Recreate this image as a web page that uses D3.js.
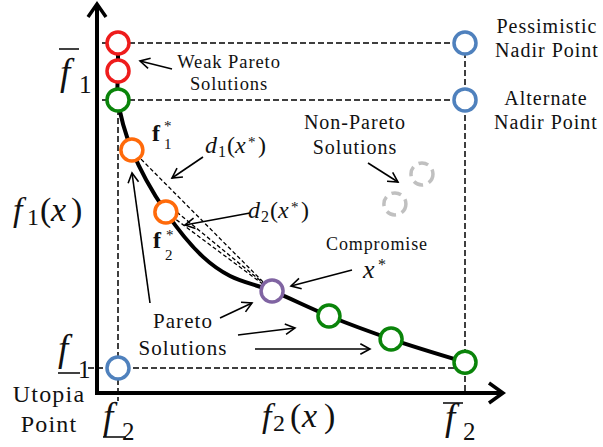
<!DOCTYPE html>
<html><head><meta charset="utf-8">
<script src="https://cdn.jsdelivr.net/npm/d3@7/dist/d3.min.js"></script>
<style>html,body{margin:0;padding:0;background:#fff;}svg{display:block;}</style>
</head><body>
<svg id="chart" width="603" height="447"></svg>
<script>
// ---- data (objective space, normalized: utopia = 0, pessimistic nadir = 10) ----
const weakPareto = [[0, 10], [0, 9.14]];
const paretoPoints = [[0, 8.25], [0.4, 6.71], [1.38, 4.8], [4.44, 2.37], [6.08, 1.6], [7.87, 0.89], [10, 0.18]];
const paretoKinds = ["pareto", "anchor", "anchor", "compromise", "pareto", "pareto", "pareto"];
const frontCurve = [[0, 10], [0, 9.14], [0, 8.25], [0.4, 6.71], [1.38, 4.8], [2.45, 3.42], [3.23, 2.83], [4.44, 2.37], [6.08, 1.6], [7.87, 0.89], [10, 0.18]];
const nadirPoints = [[10, 10], [10, 8.25]];
const utopiaPoint = [0, 0];
const nonParetoPoints = [[8.76, 5.97], [7.98, 5.05]];
const kindColors = {weak: "#ee1c1c", pareto: "#0a840a", anchor: "#ff6a0a", compromise: "#8064a2", ref: "#4f81bd"};

const svg = d3.select("#chart");
const SERIF = "'Liberation Serif', 'Times New Roman', serif";
const x = d3.scaleLinear().domain([0, 10]).range([118, 465]);
const y = d3.scaleLinear().domain([0, 10]).range([368, 43]);
const AX = 97, AY = 393;

// ---- reference dashed lines ----
const dash = svg.append("g").attr("fill", "none").attr("stroke", "#000")
  .attr("stroke-width", 1.5).attr("stroke-dasharray", "6,3");
dash.append("line").attr("x1", 102).attr("x2", x(10)).attr("y1", y(10)).attr("y2", y(10));
dash.append("line").attr("x1", 102).attr("x2", x(10)).attr("y1", y(8.25)).attr("y2", y(8.25));
dash.append("line").attr("x1", x(10)).attr("x2", x(10)).attr("y1", y(10)).attr("y2", AY);
dash.append("line").attr("x1", x(0)).attr("x2", x(0)).attr("y1", y(8.25)).attr("y2", AY + 8);
dash.append("line").attr("x1", 88).attr("x2", x(10)).attr("y1", y(0)).attr("y2", y(0));

// distance lines from anchors to compromise
const comp = paretoPoints[3], a1 = paretoPoints[1], a2 = paretoPoints[2];
const dd = svg.append("g").attr("stroke", "#000").attr("stroke-width", 1.3).attr("stroke-dasharray", "4,2.5");
dd.append("line").attr("x1", x(a1[0])).attr("y1", y(a1[1])).attr("x2", x(comp[0])).attr("y2", y(comp[1]));
dd.append("line").attr("x1", x(a2[0])).attr("y1", y(a2[1])).attr("x2", x(comp[0])).attr("y2", y(comp[1]));
dd.append("line").attr("x1", x(a2[0]) + 6).attr("y1", y(a2[1]) - 4).attr("x2", x(comp[0]) - 4).attr("y2", y(comp[1]) - 4);

// ---- axes ----
svg.append("path").attr("d", `M${AX},6 L${AX},${AY} L502,${AY}`)
  .attr("fill", "none").attr("stroke", "#000").attr("stroke-width", 4).attr("stroke-linejoin", "miter");
svg.append("path").attr("d", `M${AX - 9},17 L${AX},4 L${AX + 9},17`)
  .attr("fill", "none").attr("stroke", "#000").attr("stroke-width", 3.5).attr("stroke-linejoin", "miter");
svg.append("path").attr("d", `M489,${AY - 10} L503,${AY} L489,${AY + 10}`)
  .attr("fill", "none").attr("stroke", "#000").attr("stroke-width", 3.5).attr("stroke-linejoin", "miter");

// ---- Pareto front curve ----
svg.append("path").datum(frontCurve)
  .attr("d", d3.line().x(d => x(d[0])).y(d => y(d[1])).curve(d3.curveCatmullRom.alpha(0.5)))
  .attr("fill", "none").attr("stroke", "#000").attr("stroke-width", 4);

// ---- points ----
const R = 11, SW = 3.5;
function circles(data, colorFn, extra) {
  const sel = svg.append("g").selectAll("circle").data(data).join("circle")
    .attr("cx", d => x(d[0])).attr("cy", d => y(d[1])).attr("r", R)
    .attr("fill", "#fff").attr("stroke", colorFn).attr("stroke-width", SW);
  if (extra) extra(sel);
}
circles(weakPareto, () => kindColors.weak);
circles(paretoPoints, (d, i) => kindColors[paretoKinds[i]]);
circles(nadirPoints, () => kindColors.ref);
circles([utopiaPoint], () => kindColors.ref);
circles(nonParetoPoints, () => "#c0c0c0", s => s.attr("stroke-dasharray", "10,6").attr("fill", "none"));

// ---- thin arrows ----
function arrow(x1, y1, x2, y2) {
  const g = svg.append("g").attr("stroke", "#000").attr("stroke-width", 1.6).attr("fill", "none");
  g.append("line").attr("x1", x1).attr("y1", y1).attr("x2", x2).attr("y2", y2);
  const ang = Math.atan2(y2 - y1, x2 - x1), L = 11, A = 0.5;
  const p1 = [x2 - L * Math.cos(ang - A), y2 - L * Math.sin(ang - A)];
  const p2 = [x2 - L * Math.cos(ang + A), y2 - L * Math.sin(ang + A)];
  g.append("path").attr("d", `M${p1[0]},${p1[1]} L${x2},${y2} L${p2[0]},${p2[1]}`);
}
arrow(172, 69, 140, 61);
arrow(368, 163, 398, 182);
arrow(203, 157, 172, 178);
arrow(250, 213, 185, 225);
arrow(352, 270, 291, 286);
arrow(150, 303, 132, 173);
arrow(220, 318, 252, 303);
arrow(238, 335, 295, 328);
arrow(255, 349, 370, 349);

// ---- text labels ----
function label(lines, cx, y0, lh, size) {
  const t = svg.append("text").attr("font-family", SERIF).attr("font-size", size)
    .attr("text-anchor", "middle").attr("letter-spacing", "0.05em").attr("fill", "#111");
  lines.forEach((s, i) => t.append("tspan").attr("x", cx).attr("y", y0 + i * lh).text(s));
}
label(["Pessimistic", "Nadir Point"], 547, 33, 24, 20);
label(["Alternate", "Nadir Point"], 546, 105, 24, 20);
label(["Non-Pareto", "Solutions"], 355, 129, 25, 20);
label(["Weak Pareto", "Solutions"], 229, 68, 22, 18.5);
label(["Compromise"], 377, 250, 0, 18);
label(["Pareto", "Solutions"], 183, 328, 27, 21);
label(["Utopia", "Point"], 49, 402, 30, 24);

// ---- math glyphs: [text, x, baseline, size, style] ----
function math(parts) {
  parts.forEach(([s, px, py, size, st]) => {
    const t = svg.append("text").attr("x", px).attr("y", py).attr("font-family", SERIF)
      .attr("font-size", size).attr("fill", "#111").text(s);
    if (st.includes("i")) t.attr("font-style", "italic");
    if (st.includes("b")) t.attr("font-weight", "bold");
  });
}
function rule(x1, x2, yy) {
  svg.append("line").attr("x1", x1).attr("x2", x2).attr("y1", yy).attr("y2", yy)
    .attr("stroke", "#111").attr("stroke-width", 1.6);
}
// axis titles
math([["f", 13, 221, 34, "i"], ["1", 27, 225, 24, "r"], ["(", 40, 221, 34, "r"], ["x", 51, 221, 34, "i"], [")", 71, 221, 34, "r"]]);
math([["f", 262, 427, 34, "i"], ["2", 273, 431, 24, "r"], ["(", 290, 427, 34, "r"], ["x", 302, 427, 34, "i"], [")", 324, 427, 34, "r"]]);
// tick labels
math([["f", 60, 85, 37, "i"], ["1", 79, 93, 25, "r"]]); rule(59, 79, 49);
math([["f", 58, 361, 37, "i"], ["1", 78, 378, 25, "r"]]); rule(58, 80, 373);
math([["f", 103, 429, 37, "i"], ["2", 122, 440, 25, "r"]]); rule(103, 126, 437);
math([["f", 445, 430, 37, "i"], ["2", 463, 440, 25, "r"]]); rule(443, 463, 403);
// anchor labels
math([["f", 152, 141, 24, "b"], ["*", 164, 131, 15, "r"], ["1", 164, 149, 15, "r"]]);
math([["f", 153, 248, 24, "b"], ["*", 166, 240, 15, "r"], ["2", 165, 260, 15, "r"]]);
// distances
math([["d", 205, 153, 24, "i"], ["1", 218, 157, 16, "r"], ["(", 227, 153, 24, "r"], ["x", 235, 153, 24, "i"], ["*", 248, 147, 15, "r"], [")", 258, 153, 24, "r"]]);
math([["d", 248, 218, 24, "i"], ["2", 261, 222, 16, "r"], ["(", 270, 218, 24, "r"], ["x", 278, 218, 24, "i"], ["*", 291, 212, 15, "r"], [")", 301, 218, 24, "r"]]);
// compromise x*
math([["x", 363, 278, 26, "i"], ["*", 378, 270, 16, "r"]]);
</script>
</body></html>
